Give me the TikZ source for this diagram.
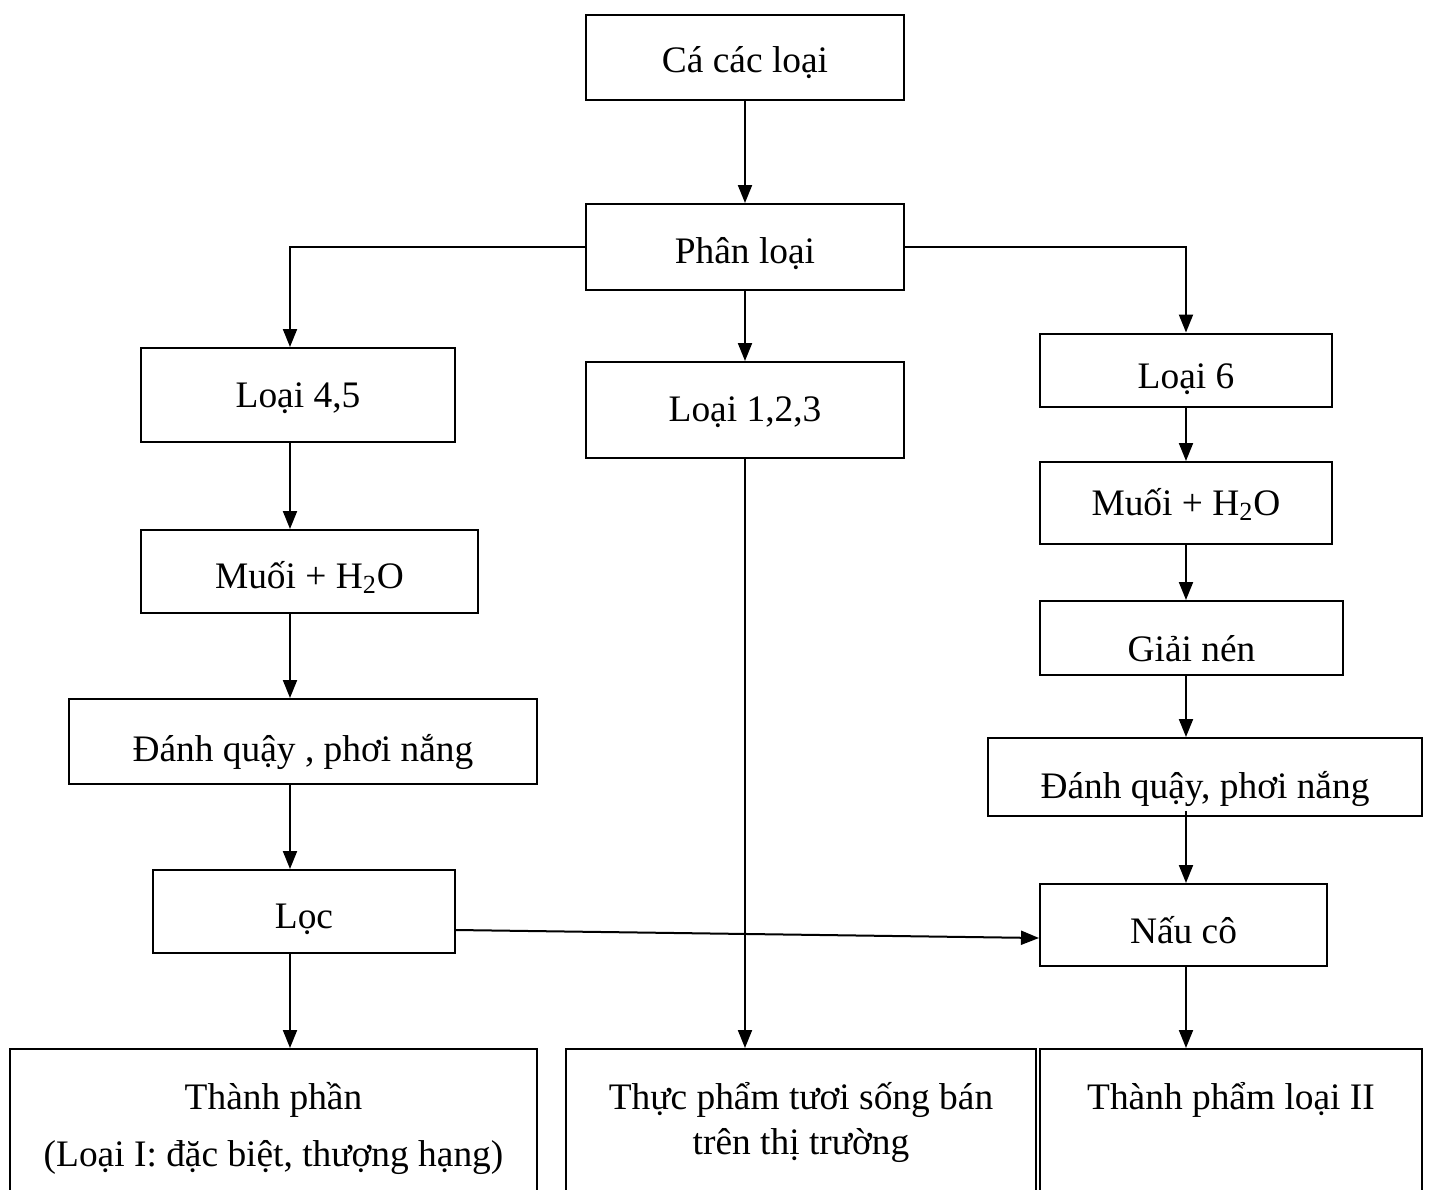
\documentclass[tikz,border=0pt]{standalone}
\usepackage{fontspec}
\setmainfont{Liberation Serif}
\usetikzlibrary{arrows.meta,positioning}

\begin{document}
\begin{tikzpicture}[x=0.5pt,y=-0.5pt,>={Triangle[length=9pt,width=7pt]},line width=1pt,on grid,
  box/.style={draw,line width=1pt,inner sep=0pt,font=\fontsize{18.7}{22.5}\selectfont},
  tb/.style={text height=#1,text depth=1pt},
  outbox/.style={box,anchor=north,align=center,text depth=90pt,inner ysep=18pt}]
  \useasboundingbox (0,0) rectangle (1432,1190);

  \node[box,tb=16pt,minimum width=159pt,minimum height=42.5pt] (ca)   at (745,57)     {Cá các loại};
  \node[box,tb=17pt,minimum width=159pt,minimum height=43pt]   (phan) [below=95pt of ca]   {Phân loại};
  \node[box,tb=12.6pt,minimum width=159pt,minimum height=48pt] (l123) [below=81.5pt of phan] {Loại 1,2,3};

  \node[box,tb=13.6pt,minimum width=157pt,minimum height=47pt]   (l45)   at (298,395)   {Loại 4,5};
  \node[box,tb=17.8pt,minimum width=168.5pt,minimum height=41.5pt] (muoiL) at (309.5,571.5) {Muối + H\textsubscript{2}O};
  \node[box,tb=21pt,minimum width=234pt,minimum height=42.5pt]   (danhL) at (303,741.5) {Đánh quậy , phơi nắng};
  \node[box,tb=17.8pt,minimum width=151pt,minimum height=41.5pt] (loc)   at (304,911.5) {Lọc};

  \node[box,tb=19.4pt,minimum width=146pt,minimum height=36.5pt] (l6)    at (1186,370)  {Loại 6};
  \node[box,tb=13pt,minimum width=146pt,minimum height=41pt]     (muoiR) [below=66.5pt of l6] {Muối + H\textsubscript{2}O};
  \node[box,tb=24.6pt,minimum width=151.5pt,minimum height=37pt] (giai)  at (1191.5,638) {Giải nén};
  \node[box,tb=22.4pt,minimum width=217pt,minimum height=39pt]   (danhR) at (1205,777)  {Đánh quậy, phơi nắng};
  \node[box,tb=19pt,minimum width=143.5pt,minimum height=41pt]   (nau)   at (1183.5,925) {Nấu cô};

  \node[outbox,text height=40.5pt,minimum width=263.5pt] (tpL) at (273.5,1048) {Thành phần\\[6pt](Loại I: đặc biệt, thượng hạng)};
  \node[outbox,text height=34.5pt,minimum width=235pt]   (tpM) at (801,1048)   {Thực phẩm tươi sống bán\\trên thị trường};
  \node[outbox,text height=12pt,minimum width=191pt]     (tpR) at (1231,1048)  {Thành phẩm loại II};

  % columns of the arrows
  \coordinate (colL) at (290,0);
  \coordinate (colM) at (745,0);
  \coordinate (colR) at (1186,0);

  \draw[->] (ca) -- (phan);
  \draw[->] (phan.west) -| (l45.north -| colL);
  \draw[->] (phan.east) -| (l6.north -| colR);
  \draw[->] (phan) -- (l123);

  \draw[->] (l45.south -| colL)   -- (muoiL.north -| colL);
  \draw[->] (muoiL.south -| colL) -- (danhL.north -| colL);
  \draw[->] (danhL.south -| colL) -- (loc.north -| colL);
  \draw[->] (loc.south -| colL)   -- (tpL.north -| colL);

  \draw[->] (l123.south -| colM)  -- (tpM.north -| colM);

  \draw[->] (l6.south -| colR)    -- (muoiR.north -| colR);
  \draw[->] (muoiR.south -| colR) -- (giai.north -| colR);
  \draw[->] (giai.south -| colR)  -- (danhR.north -| colR);
  \draw[->] ([yshift=3pt]danhR.south -| colR) -- (nau.north -| colR);
  \draw[->] (nau.south -| colR)   -- (tpR.north -| colR);

  \draw[->] ([yshift=-9.25pt]loc.east) -- ([yshift=-6.5pt]nau.west);
\end{tikzpicture}
\end{document}
